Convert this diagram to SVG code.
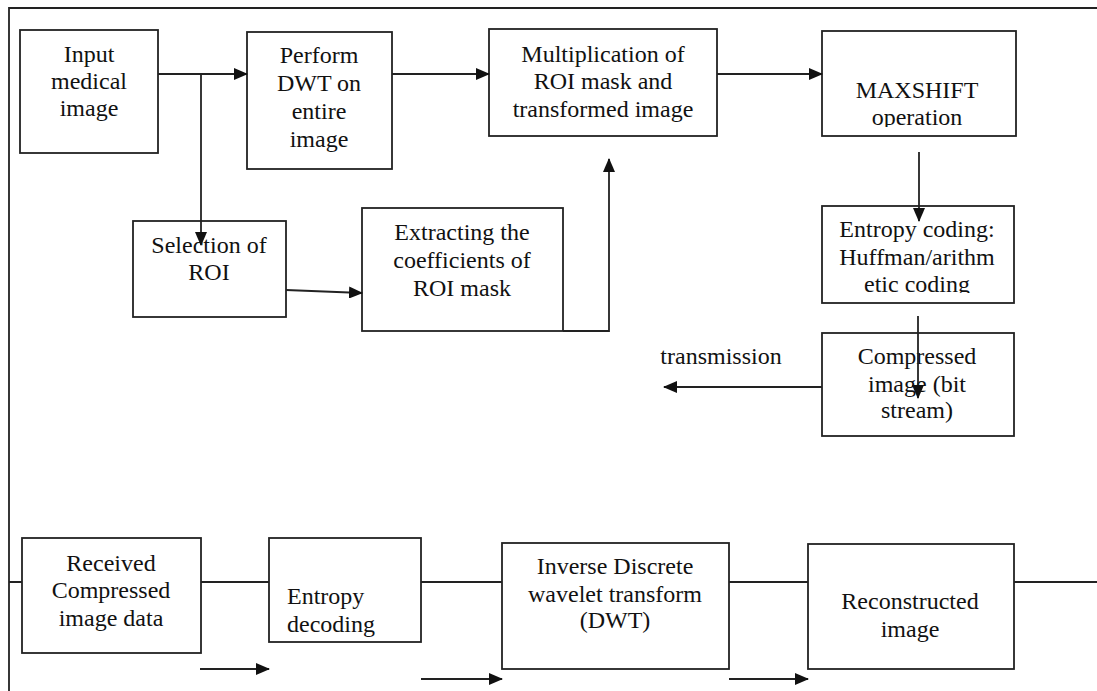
<svg xmlns="http://www.w3.org/2000/svg" width="1097" height="691" viewBox="0 0 1097 691">
<style>
.box{fill:#fff;stroke:#222;stroke-width:1.8}
.ln{fill:none;stroke:#222;stroke-width:1.8}
.ar{fill:none;stroke:#222;stroke-width:1.8;marker-end:url(#ah)}
text{font-family:"Liberation Serif","Times New Roman",serif;font-size:24px;fill:#111;text-anchor:middle}
</style>
<defs>
<marker id="ah" markerWidth="14" markerHeight="12" refX="13" refY="6" orient="auto" markerUnits="userSpaceOnUse">
<path d="M0,0 L14,6 L0,12 Z" fill="#111"/>
</marker>
<clipPath id="clip4"><rect x="822" y="31" width="194" height="96"/></clipPath>
<clipPath id="clip5"><rect x="822" y="206" width="192" height="87"/></clipPath>
<clipPath id="clipED"><rect x="269" y="538" width="152" height="99"/></clipPath>
</defs>
<rect width="1097" height="691" fill="#fff"/>
<g id="frame">
<path class="ln" d="M9,691 V8 H1097"/>
</g>
<g id="n-input">
<rect class="box" x="20" y="30" width="138" height="123"/>
<text x="89" y="62">Input</text>
<text x="89" y="89">medical</text>
<text x="89" y="116">image</text>
</g>
<g id="n-dwt">
<rect class="box" x="247" y="32" width="145" height="137"/>
<text x="319" y="63">Perform</text>
<text x="319" y="91">DWT on</text>
<text x="319" y="119">entire</text>
<text x="319" y="147">image</text>
</g>
<g id="n-mult">
<rect class="box" x="489" y="29" width="228" height="107"/>
<text x="603" y="62">Multiplication of</text>
<text x="603" y="89">ROI mask and</text>
<text x="603" y="117">transformed image</text>
</g>
<g id="n-maxshift">
<rect class="box" x="822" y="31" width="194" height="105"/>
<g clip-path="url(#clip4)">
<text x="917" y="98">MAXSHIFT</text>
<text x="917" y="125">operation</text>
</g>
</g>
<g id="n-entropy">
<rect class="box" x="822" y="206" width="192" height="97"/>
<g clip-path="url(#clip5)">
<text x="917" y="237">Entropy coding:</text>
<text x="917" y="265">Huffman/arithm</text>
<text x="917" y="292">etic coding</text>
</g>
</g>
<g id="n-compressed">
<rect class="box" x="822" y="333" width="192" height="103"/>
<text x="917" y="364">Compressed</text>
<text x="917" y="392">image (bit</text>
<text x="917" y="418">stream)</text>
</g>
<g id="n-selection">
<rect class="box" x="133" y="221" width="153" height="96"/>
<text x="209" y="253">Selection of</text>
<text x="209" y="280">ROI</text>
</g>
<g id="n-extract">
<rect class="box" x="362" y="208" width="201" height="123"/>
<text x="462" y="240">Extracting the</text>
<text x="462" y="268">coefficients of</text>
<text x="462" y="296">ROI mask</text>
</g>
<g id="n-received">
<rect class="box" x="22" y="538" width="179" height="115"/>
<text x="111" y="571">Received</text>
<text x="111" y="598">Compressed</text>
<text x="111" y="626">image data</text>
</g>
<g id="n-entdec">
<rect class="box" x="269" y="538" width="152" height="104"/>
<g clip-path="url(#clipED)">
<text x="287" y="604" style="text-anchor:start">Entropy</text>
<text x="287" y="632" style="text-anchor:start">decoding</text>
</g>
</g>
<g id="n-idwt">
<rect class="box" x="502" y="543" width="227" height="126"/>
<text x="615" y="574">Inverse Discrete</text>
<text x="615" y="602">wavelet transform</text>
<text x="615" y="628">(DWT)</text>
</g>
<g id="n-recon">
<rect class="box" x="808" y="544" width="206" height="125"/>
<text x="910" y="609">Reconstructed</text>
<text x="910" y="637">image</text>
</g>
<g id="labels">
<text x="721" y="364">transmission</text>
</g>
<g id="connectors">
<path class="ar" d="M158,74 H247"/>
<path class="ar" d="M201,74 V245"/>
<path class="ar" d="M392,74 H489"/>
<path class="ar" d="M717,74 H822"/>
<path class="ar" d="M919,152 V221"/>
<path class="ar" d="M918,316 V398"/>
<path class="ar" d="M822,387 H664"/>
<path class="ar" d="M286,290 L362,293"/>
<path class="ar" d="M563,331 H609 V159"/>
<path class="ln" d="M9,582 H22 M201,582 H269 M421,582 H502 M729,582 H808 M1014,582 H1097"/>
<path class="ar" d="M200,669 H269"/>
<path class="ar" d="M421,679 H502"/>
<path class="ar" d="M729,679 H808"/>
</g>
</svg>
